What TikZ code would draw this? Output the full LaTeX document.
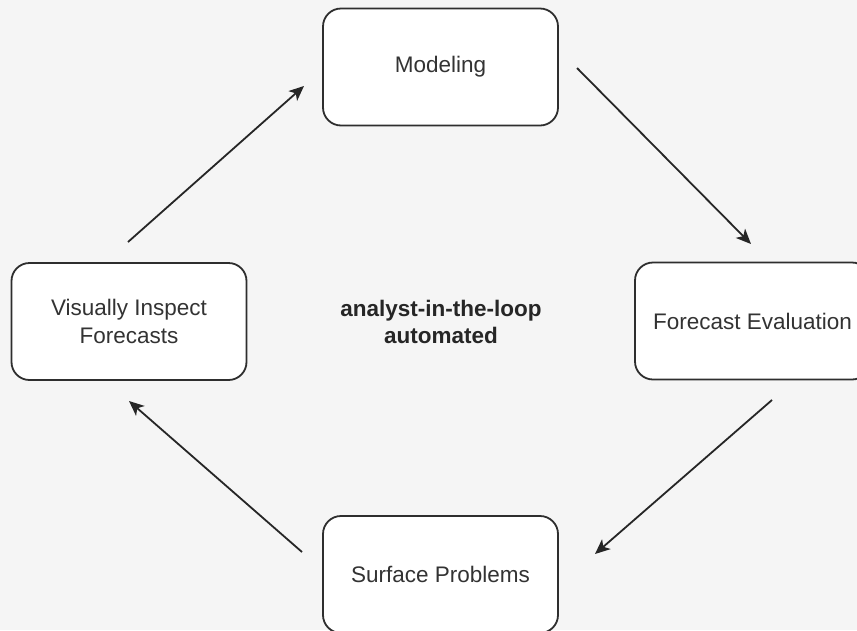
\documentclass[tikz,border=0pt]{standalone}
\usepackage{fontspec}
\setmainfont{Liberation Sans}
\usetikzlibrary{arrows.meta}
\definecolor{bg}{HTML}{F5F5F5}
\definecolor{ink}{HTML}{2E2E2E}
\definecolor{txt}{HTML}{333333}
\tikzset{
  stepbox/.style={draw=ink, fill=white, line width=1.8pt, rounded corners=18pt,
    minimum width=235pt, minimum height=117pt, align=center, text=txt,
    font=\fontsize{22.5}{28}\selectfont},
  flow/.style={draw=black!85, line width=1.8pt, -{Stealth[length=15pt,width=13pt,inset=4pt]}}
}
\begin{document}
\begin{tikzpicture}[x=1pt,y=-1pt]
\useasboundingbox (0,0) rectangle (857,630);
\clip (0,0) rectangle (857,630);
\fill[bg] (0,0) rectangle (857,630);
\node[stepbox] (model) at (440.5,67) {Modeling};
\node[stepbox] (eval) at (752.5,321) {Forecast Evaluation};
\node[stepbox] (surf) at (440.5,574.5) {Surface Problems};
\node[stepbox] (vis) at (129,321.5) {Visually Inspect\\Forecasts};
\node[align=center, text=black!85, font=\fontsize{22.5}{27}\bfseries\selectfont] (center) at (441,322) {analyst-in-the-loop\\automated};
\coordinate (a1s) at (577,68);
\coordinate (a1e) at (751,244);
\coordinate (a2s) at (772,400);
\coordinate (a2e) at (595,554);
\coordinate (a3s) at (302,552);
\coordinate (a3e) at (129,401);
\coordinate (a4s) at (128,242);
\coordinate (a4e) at (304,86);
\draw[flow] (a1s) -- (a1e);
\draw[flow] (a2s) -- (a2e);
\draw[flow] (a3s) -- (a3e);
\draw[flow] (a4s) -- (a4e);
\end{tikzpicture}
\end{document}
